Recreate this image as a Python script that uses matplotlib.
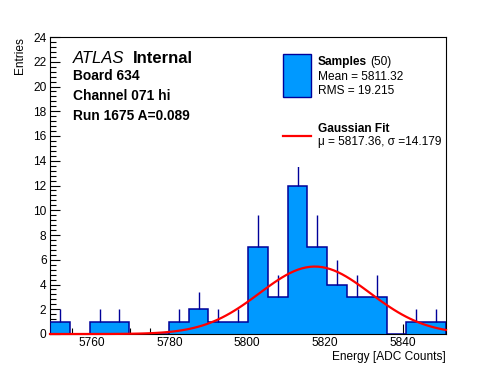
import numpy as np
import matplotlib.pyplot as plt
from matplotlib.patches import Rectangle
from matplotlib.ticker import MultipleLocator

plt.rcParams["font.family"] = ["Liberation Sans", "DejaVu Sans"]

# histogram data (20 bins)
x_lo, x_hi = 5749.4, 5851.0
counts = [1, 0, 1, 1, 0, 0, 1, 2, 1, 1, 7, 3, 12, 7, 4, 3, 3, 0, 1, 1]

# gaussian fit parameters
fit_mu = 5817.36
fit_sigma = 14.179
fit_amp = 5.45

fill_col = "#0099ff"
edge_col = "#000099"
fs = 8.6

edges = np.linspace(x_lo, x_hi, len(counts) + 1)
centers = 0.5 * (edges[:-1] + edges[1:])
counts = np.array(counts, dtype=float)

fig = plt.figure(figsize=(4.96, 3.72), dpi=100)
ax = fig.add_axes([50 / 496, 1 - 334 / 372, 396 / 496, 297 / 372])

ax.stairs(counts, edges, fill=True, color=fill_col, zorder=2)
ax.stairs(counts, edges, color=edge_col, linewidth=1.1, baseline=0, zorder=3)

nz = counts > 0
ax.vlines(centers[nz], counts[nz], counts[nz] + np.sqrt(counts[nz]),
          color=edge_col, linewidth=1.0, zorder=3)

xf = np.linspace(x_lo, x_hi, 100)
yf = fit_amp * np.exp(-0.5 * ((xf - fit_mu) / fit_sigma) ** 2)
ax.plot(xf, yf, color="red", linewidth=1.6, zorder=4, clip_on=False)

ax.set_xlim(x_lo, x_hi)
ax.set_ylim(0, 24)
ax.xaxis.set_major_locator(MultipleLocator(20))
ax.xaxis.set_minor_locator(MultipleLocator(5))
ax.yaxis.set_major_locator(MultipleLocator(2))
ax.yaxis.set_minor_locator(MultipleLocator(0.4))
ax.tick_params(which="both", direction="in", top=False, right=False,
               labelsize=fs, width=0.8)
ax.tick_params(which="major", length=7)
ax.tick_params(which="minor", length=4)
ax.tick_params(axis="x", pad=2.5)
ax.tick_params(axis="y", pad=2.5)
for s in ax.spines.values():
    s.set_linewidth(0.8)

ax.set_ylabel("Entries", fontsize=fs, loc="top", labelpad=5)
ax.set_xlabel("Energy [ADC Counts]", fontsize=fs, loc="right", labelpad=1)

# legend area (white, covers what is behind)
def px(x, y):
    return x / 496, 1 - y / 372

tr = fig.transFigure
fig.patches.append(Rectangle(px(278, 167), 166 / 496, 125 / 372, transform=tr,
                             facecolor="white", edgecolor="none", zorder=5))
fig.patches.append(Rectangle(px(283, 97), 28 / 496, 43.5 / 372, transform=tr,
                             facecolor=fill_col, edgecolor=edge_col,
                             linewidth=1.0, zorder=6))
fig.add_artist(plt.Line2D([283 / 496, 311 / 496], [1 - 136 / 372] * 2,
                          transform=tr, color="red", linewidth=1.6, zorder=6))

fig.text(*px(317.5, 65), "Samples", fontsize=fs, fontweight="bold",
         va="baseline", zorder=7)
fig.text(*px(370, 65), "(50)", fontsize=fs, va="baseline", zorder=7)
fig.text(*px(317.5, 80), "Mean = 5811.32", fontsize=fs, va="baseline", zorder=7)
fig.text(*px(317.5, 93.5), "RMS = 19.215", fontsize=fs, va="baseline", zorder=7)
fig.text(*px(317.5, 132), "Gaussian Fit", fontsize=fs, fontweight="bold",
         va="baseline", zorder=7)
fig.text(*px(317.5, 145), "\u03bc = 5817.36, \u03c3 =14.179", fontsize=fs,
         va="baseline", zorder=7)

fig.text(*px(73, 63), "ATLAS", fontsize=12, fontstyle="italic", va="baseline")
fig.text(*px(133, 63), "Internal", fontsize=12, fontweight="bold", va="baseline")
fig.text(*px(73, 80), "Board 634", fontsize=9.9, fontweight="bold", va="baseline")
fig.text(*px(73, 100), "Channel 071 hi", fontsize=9.9, fontweight="bold", va="baseline")
fig.text(*px(73, 120), "Run 1675 A=0.089", fontsize=9.9, fontweight="bold", va="baseline")

fig.savefig("out.png", dpi=100)
